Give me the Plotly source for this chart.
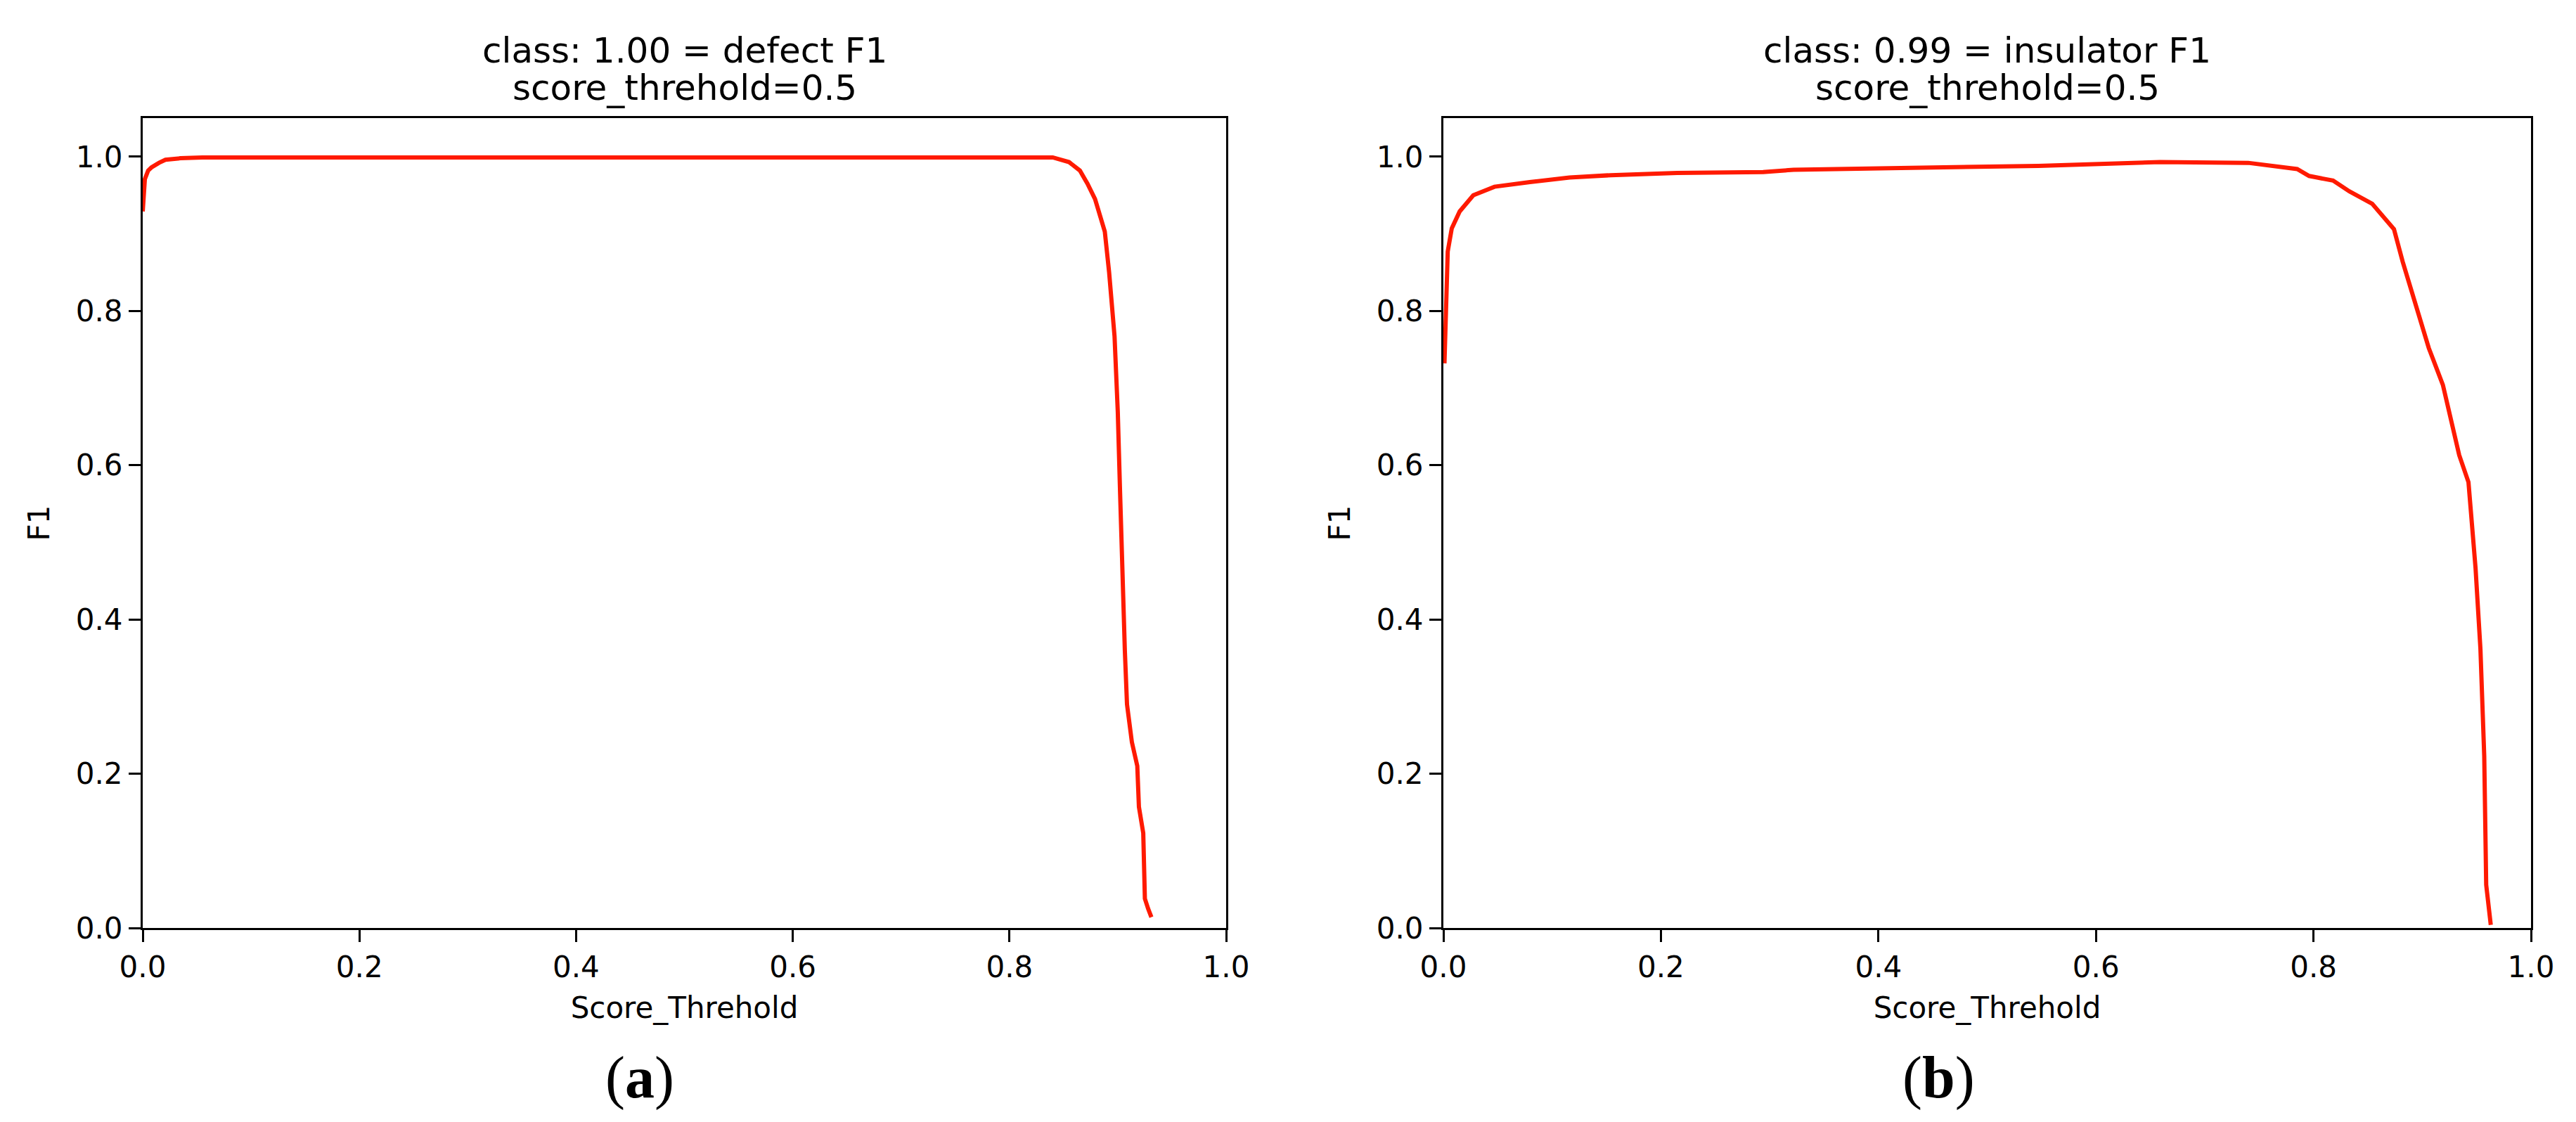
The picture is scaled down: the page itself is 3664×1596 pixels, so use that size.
import plotly.graph_objs as go

# F1 vs score threshold
defect_x = [0.0, 0.002, 0.005, 0.008, 0.015, 0.021, 0.035, 0.055, 0.2, 0.4, 0.6, 0.8, 0.84,
            0.855, 0.865, 0.872, 0.879, 0.888, 0.892, 0.897, 0.900, 0.902, 0.904, 0.9065,
            0.9085, 0.913, 0.918, 0.9195, 0.9235, 0.925, 0.928, 0.931]
defect_f1 = [0.929, 0.971, 0.982, 0.986, 0.992, 0.996, 0.998, 0.999, 0.999, 0.999, 0.999, 0.999, 0.999,
             0.993, 0.982, 0.965, 0.945, 0.903, 0.85, 0.767, 0.669, 0.57, 0.466, 0.36,
             0.29, 0.241, 0.21, 0.157, 0.123, 0.038, 0.025, 0.014]

insulator_x = [0.001, 0.0026, 0.004, 0.0077, 0.015, 0.0275, 0.047, 0.0795, 0.116, 0.154, 0.215,
               0.294, 0.322, 0.45, 0.547, 0.659, 0.682, 0.71, 0.74, 0.785, 0.796, 0.818, 0.833,
               0.854, 0.874, 0.882, 0.897, 0.906, 0.919, 0.934, 0.9425, 0.949, 0.9535, 0.957,
               0.9588, 0.963]
insulator_f1 = [0.732, 0.816, 0.877, 0.907, 0.929, 0.95, 0.961, 0.967, 0.973, 0.976, 0.979,
                0.98, 0.983, 0.986, 0.988, 0.993, 0.993, 0.992, 0.992, 0.984, 0.975, 0.969, 0.955,
                0.939, 0.906, 0.864, 0.794, 0.752, 0.704, 0.613, 0.578, 0.467, 0.362, 0.223,
                0.056, 0.004]

titles = ['class: 1.00 = defect F1', 'class: 0.99 = insulator F1']
subtitle = 'score_threhold=0.5'
captions = ['(<b>a</b>)', '(<b>b</b>)']

W, H = 3664, 1596
red = '#ff1a00'
font = 'DejaVu Sans'


def px(v):
    return v / W


def py(v):
    return 1 - v / H


trace1 = go.Scatter(x=defect_x, y=defect_f1, mode='lines', line=dict(color=red, width=6),
                    xaxis='x', yaxis='y', showlegend=False)
trace2 = go.Scatter(x=insulator_x, y=insulator_f1, mode='lines', line=dict(color=red, width=6),
                    xaxis='x2', yaxis='y2', showlegend=False)

axis_style = dict(
    showline=True, linecolor='black', linewidth=3, mirror=True,
    ticks='outside', ticklen=17, tickwidth=3, tickcolor='black',
    showgrid=False, zeroline=False, dtick=0.2, tickformat='.1f', automargin=False,
    tickfont=dict(family=font, size=42, color='black'),
)

left_dom = [px(195), px(1736)]
right_dom = [px(2045), px(3592)]
y_dom = [py(1312), py(160)]

annotations = []
for i, dom in enumerate([left_dom, right_dom]):
    cx = (dom[0] + dom[1]) / 2
    annotations.append(dict(x=cx, y=py(64), xref='paper', yref='paper', text=titles[i],
                            showarrow=False, xanchor='center', yanchor='middle',
                            font=dict(family=font, size=50, color='black')))
    annotations.append(dict(x=cx, y=py(117), xref='paper', yref='paper', text=subtitle,
                            showarrow=False, xanchor='center', yanchor='middle',
                            font=dict(family=font, size=50, color='black')))
annotations.append(dict(x=px(902), y=py(1525), xref='paper', yref='paper', text=captions[0],
                        showarrow=False, xanchor='center', yanchor='middle',
                        font=dict(family='Liberation Serif', size=84, color='black')))
annotations.append(dict(x=px(2749), y=py(1525), xref='paper', yref='paper', text=captions[1],
                        showarrow=False, xanchor='center', yanchor='middle',
                        font=dict(family='Liberation Serif', size=84, color='black')))

layout = go.Layout(
    width=W, height=H,
    margin=dict(l=0, r=0, t=0, b=0),
    paper_bgcolor='white', plot_bgcolor='white',
    font=dict(family=font, size=42, color='black'),
    xaxis=dict(axis_style, domain=left_dom, range=[0, 1], anchor='y',
               title=dict(text='Score_Threhold', standoff=20, font=dict(size=42))),
    yaxis=dict(axis_style, domain=y_dom, range=[0, 1.05], anchor='x',
               title=dict(text='F1', standoff=25, font=dict(size=42))),
    xaxis2=dict(axis_style, domain=right_dom, range=[0, 1], anchor='y2',
                title=dict(text='Score_Threhold', standoff=20, font=dict(size=42))),
    yaxis2=dict(axis_style, domain=y_dom, range=[0, 1.05], anchor='x2',
                title=dict(text='F1', standoff=25, font=dict(size=42))),
    annotations=annotations,
)

fig = go.Figure(data=[trace1, trace2], layout=layout)
fig.write_html('out.html')
